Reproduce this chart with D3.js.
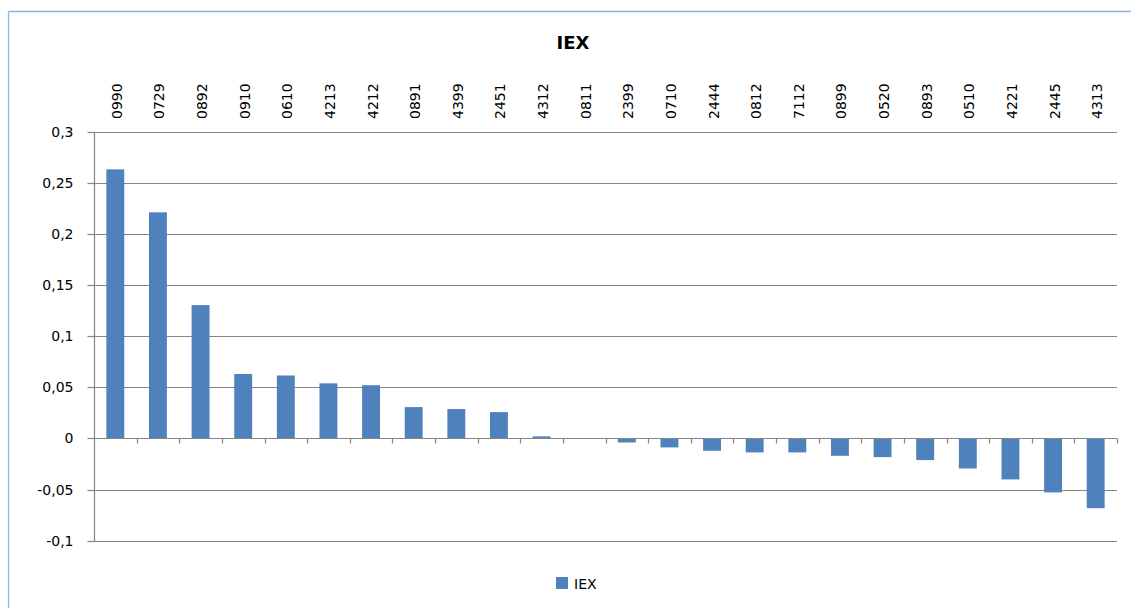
<!DOCTYPE html>
<html><head><meta charset="utf-8">
<script src="https://cdn.jsdelivr.net/npm/d3@7"></script>
<style>html,body{margin:0;padding:0;background:#fff;overflow:hidden}</style>
</head><body>
<svg id="c" width="1131" height="608"></svg>
<script>
const categories = ["0990","0729","0892","0910","0610","4213","4212","0891","4399","2451","4312","0811","2399","0710","2444","0812","7112","0899","0520","0893","0510","4221","2445","4313"];
const values = [0.263,0.221,0.1303,0.063,0.0615,0.0538,0.052,0.0306,0.0287,0.0257,0.002,0,-0.004,-0.0088,-0.0121,-0.0137,-0.0137,-0.017,-0.0183,-0.0212,-0.0294,-0.0401,-0.0528,-0.0682];
const yTicks = [-0.1,-0.05,0,0.05,0.1,0.15,0.2,0.25,0.3];
const yTickLabels = ["-0,1","-0,05","0","0,05","0,1","0,15","0,2","0,25","0,3"];
const seriesName = "IEX";
const title = "IEX";

const svg = d3.select("#c");
const font = "DejaVu Sans, Verdana, sans-serif";
const gridColor = "#868686";
const barColor = "#4F81BD";

// chart border
svg.append("line").attr("x1",8.5).attr("x2",1131).attr("y1",11.5).attr("y2",11.5).attr("stroke","#8db3e2").attr("stroke-width",1.3);
svg.append("line").attr("x1",8.5).attr("x2",8.5).attr("y1",11.5).attr("y2",608).attr("stroke","#8db3e2").attr("stroke-width",1.3);

const x = d3.scaleBand().domain(categories).range([94,1117]).paddingInner(0.58).paddingOuter(0.29);
const y = d3.scaleLinear().domain([-0.1,0.3]).range([540.7,131.5]);

// gridlines
svg.append("g").selectAll("line").data(yTicks).join("line")
  .attr("x1",94).attr("x2",1117)
  .attr("y1",d=>Math.round(y(d))+0.5).attr("y2",d=>Math.round(y(d))+0.5)
  .attr("stroke",gridColor).attr("stroke-width",1.2);

// y axis
const yAxis = d3.axisLeft(y).tickValues(yTicks).tickSize(7).tickPadding(14)
  .tickFormat((d,i)=>yTickLabels[i]);
const gy = svg.append("g").attr("transform","translate(94.5,0)").call(yAxis);
gy.select(".domain").attr("stroke",gridColor).attr("stroke-width",1.2).attr("d","M0,"+(Math.round(y(0.3))+0.5)+"V"+(Math.round(y(-0.1))+0.5));
gy.selectAll(".tick line").attr("stroke",gridColor).attr("stroke-width",1.2);
gy.selectAll(".tick").attr("transform",d=>"translate(0,"+(Math.round(y(d))+0.5)+")");
gy.selectAll("text").attr("font-family",font).attr("font-size",14).attr("fill","#000");

// bars
svg.append("g").selectAll("rect").data(values).join("rect")
  .attr("x",(d,i)=>x(categories[i]))
  .attr("width",x.bandwidth())
  .attr("y",d=>y(Math.max(0,d)))
  .attr("height",d=>Math.abs(y(d)-y(0)))
  .attr("fill",barColor);

// category axis at zero (ticks at boundaries)
const y0 = Math.round(y(0))+0.5;
svg.append("line").attr("x1",94).attr("x2",1117).attr("y1",y0).attr("y2",y0).attr("stroke",gridColor).attr("stroke-width",1.2);
svg.append("g").selectAll("line").data(d3.range(1,categories.length+1)).join("line")
  .attr("x1",i=>Math.round(94+i*x.step())+0.5)
  .attr("x2",i=>Math.round(94+i*x.step())+0.5)
  .attr("y1",y0).attr("y2",y0+5).attr("stroke",gridColor).attr("stroke-width",1.2);

// category labels above plot
svg.append("g").selectAll("text").data(categories).join("text")
  .attr("transform",d=>"translate("+(x(d)+x.bandwidth()/2+1.5)+",119) rotate(-90)")
  .attr("dy","0.36em")
  .attr("font-family",font).attr("font-size",14).attr("fill","#000")
  .text(d=>d);

// title
svg.append("text").attr("x",573).attr("y",49).attr("text-anchor","middle")
  .attr("font-family",font).attr("font-weight","bold").attr("font-size",18).attr("fill","#000").text(title);

// legend
svg.append("rect").attr("x",556).attr("y",577).attr("width",12).attr("height",12).attr("fill",barColor);
svg.append("text").attr("x",574).attr("y",588.5).attr("font-family",font).attr("font-size",14).attr("fill","#000").text(seriesName);
</script>
</body></html>
